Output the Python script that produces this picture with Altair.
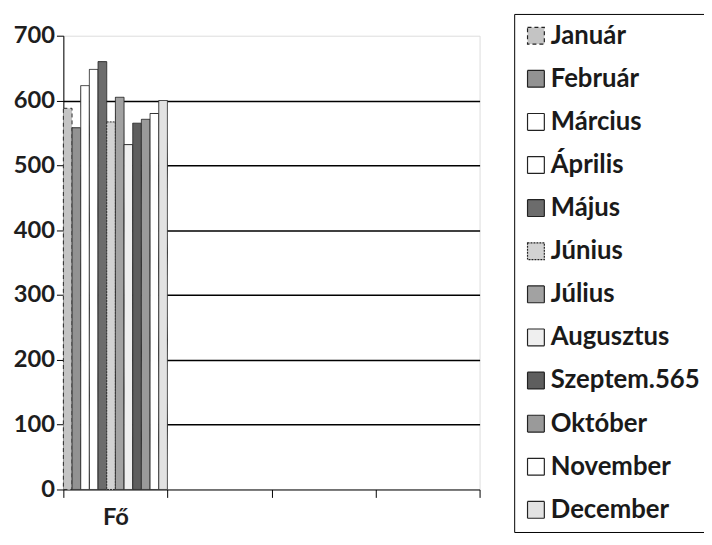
import altair as alt
import pandas as pd

CATEGORIES = ["Fő", "c2", "c3", "c4"]
LABELS = ["Január", "Február", "Március", "Április", "Május", "Június",
          "Július", "Augusztus", "Szeptem.565", "Október", "November", "December"]
VALUES = [588, 558, 623, 648, 660, 567, 605, 532, 565, 571, 580, 600]
COLORS = ["#c4c4c4", "#929292", "#ffffff", "#ffffff", "#6c6c6c", "#d2d2d2",
          "#a2a2a2", "#efefef", "#5e5e5e", "#9a9a9a", "#ffffff", "#e2e2e2"]
DASHES = [[4, 3], [1, 0], [1, 0], [1, 0], [1, 0], [2, 1],
          [1, 0], [1, 0], [1, 0], [1, 0], [1, 0], [1, 0]]
Y_TICKS = [0, 100, 200, 300, 400, 500, 600, 700]

df = pd.DataFrame({"cat": ["Fő"] * len(LABELS), "label": LABELS, "value": VALUES})

FONT = "Lato"

bars = alt.Chart(df).mark_bar(stroke="#2a2a2a", strokeWidth=1).encode(
    x=alt.X("cat:N", scale=alt.Scale(domain=CATEGORIES, paddingInner=0, paddingOuter=0),
            axis=alt.Axis(title=None, labelExpr="datum.value == 'Fő' ? 'Fő' : ''",
                          tickBand="extent", labelAngle=0, domainColor="black",
                          tickColor="black", tickSize=8, labelPadding=8,
                          labelFont=FONT, labelFontSize=24, labelFontWeight="bold",
                          labelColor="#1e1e1e", grid=False)),
    xOffset=alt.XOffset("label:N", sort=LABELS, scale=alt.Scale(paddingInner=0, paddingOuter=0)),
    y=alt.Y("value:Q", scale=alt.Scale(domain=[0, 700], nice=False),
            axis=alt.Axis(title=None, values=Y_TICKS, domainColor="black",
                          tickColor="black", tickSize=7, labelPadding=2,
                          labelFont=FONT, labelFontSize=24, labelFontWeight="bold",
                          labelColor="#1e1e1e", grid=True,
                          gridColor={"condition": {"test": "datum.value >= 700 || datum.value <= 0",
                                                   "value": "transparent"},
                                     "value": "black"},
                          gridWidth=1.5)),
    color=alt.Color("label:N", sort=LABELS,
                    scale=alt.Scale(domain=LABELS, range=COLORS),
                    legend=alt.Legend(title=None, orient="none", legendX=456, legendY=-22,
                                      symbolType="square", symbolSize=289,
                                      symbolStrokeColor="#222", symbolStrokeWidth=1.2,
                                      labelFont=FONT, labelFontSize=26, labelFontWeight="bold",
                                      labelColor="#1a1a1a", labelOffset=2,
                                      rowPadding=17.6, padding=9,
                                      strokeColor="black", fillColor="white",
                                      labelLimit=300)),
    strokeDash=alt.StrokeDash("label:N", sort=LABELS,
                              scale=alt.Scale(domain=LABELS, range=DASHES), legend=None),
)

chart = bars.properties(
    width=421, height=459,
    padding={"left": 56, "top": 25, "right": 227, "bottom": 41},
    autosize="none",
).configure_view(fill="#d9d9d9", stroke=None).configure(background="white")

chart.save("out.html", embed_options={"renderer": "svg", "actions": False})
